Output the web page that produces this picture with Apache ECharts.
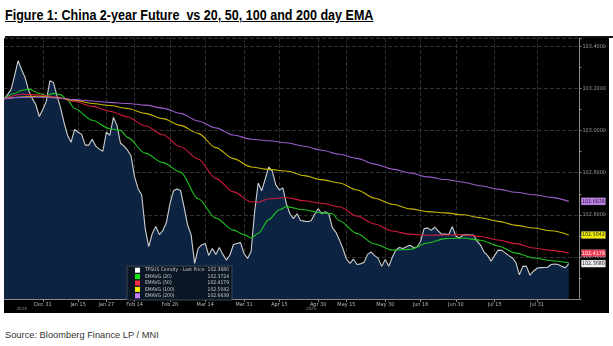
<!DOCTYPE html>
<html>
<head>
<meta charset="utf-8">
<script src="https://cdn.jsdelivr.net/npm/echarts@6/dist/echarts.min.js"></script>
<style>
  html, body { margin: 0; padding: 0; background: #fff; width: 613px; height: 346px; overflow: hidden; }
  #title { position: absolute; left: 5px; top: 6px; font: bold 15.5px 'Liberation Sans', Arial, sans-serif;
           text-decoration: underline; color: #000; white-space: pre; line-height: 17px;
           transform: scaleX(0.81); transform-origin: 0 0; }
  #rule { position: absolute; left: 5px; top: 36px; width: 608px; height: 1.5px; background: #111; }
  #chart { position: absolute; left: 4px; top: 38px; width: 605px; height: 273px; background: #000; }
  #foot { position: absolute; left: 4px; top: 311px; width: 605px; height: 2px; background: #000; }
  #source { position: absolute; left: 5px; top: 330px; font: 9.3px 'Liberation Sans', sans-serif; color: #333; }
</style>
</head>
<body>
<div id="title">Figure 1: China 2-year Future  vs 20, 50, 100 and 200 day EMA</div>
<div id="rule"></div>
<div id="chart"></div>
<div id="foot"></div>
<div id="source">Source: Bloomberg Finance LP / MNI</div>
<script>
// Trading calendar (weekdays, minus exchange holidays)
const startDay = '2024-12-16';
const endDay = '2025-08-18';
const closedDays = ['2025-01-01', '2025-01-28', '2025-01-29', '2025-01-30', '2025-01-31', '2025-02-03',
  '2025-02-04', '2025-04-04', '2025-05-01', '2025-05-02', '2025-05-05', '2025-06-02'];

// Axis labels
const tickDates = ['2024-12-31', '2025-01-15', '2025-01-27', '2025-02-14', '2025-02-28', '2025-03-14', '2025-03-31',
  '2025-04-15', '2025-04-30', '2025-05-15', '2025-05-30', '2025-06-16', '2025-06-30', '2025-07-15', '2025-07-31'];
const tickLabels = ['Dec 31', 'Jan 15', 'Jan 27', 'Feb 14', 'Feb 28', 'Mar 14', 'Mar 31',
  'Apr 15', 'Apr 30', 'May 15', 'May 30', 'Jun 16', 'Jun 30', 'Jul 15', 'Jul 31'];
const yearLabelDates = ['2024-12-23', '2025-04-28'];
const yearLabels = ['2024', '2025'];

// TFSUS Comdty last price, one value per trading day
const priceValues = [
  103.150, 103.171, 103.195, 103.261, 103.332, 103.289, 103.251, 103.190, 103.152, 103.124,
  103.067, 103.100, 103.140, 103.237, 103.228, 103.166, 103.110, 103.039, 102.978, 102.945,
  103.006, 102.992, 102.982, 102.931, 102.931, 102.959, 102.926, 102.912, 102.902, 102.992,
  102.978, 103.063, 103.025, 102.940, 102.926, 102.907, 102.879, 102.780, 102.723, 102.695,
  102.534, 102.449, 102.511, 102.544, 102.506, 102.525, 102.563, 102.652, 102.714, 102.723,
  102.716, 102.638, 102.553, 102.506, 102.369, 102.440, 102.457, 102.464, 102.407, 102.440,
  102.412, 102.445, 102.412, 102.385, 102.409, 102.459, 102.464, 102.468, 102.416, 102.393,
  102.426, 102.615, 102.751, 102.714, 102.770, 102.827, 102.808, 102.742, 102.718, 102.728,
  102.652, 102.605, 102.582, 102.605, 102.573, 102.570, 102.567, 102.572, 102.603, 102.629,
  102.605, 102.615, 102.605, 102.539, 102.518, 102.482, 102.440, 102.390, 102.369, 102.389,
  102.364, 102.367, 102.374, 102.412, 102.423, 102.406, 102.393, 102.355, 102.388, 102.355,
  102.398, 102.433, 102.445, 102.440, 102.448, 102.455, 102.445, 102.447, 102.473, 102.534,
  102.538, 102.526, 102.541, 102.524, 102.507, 102.509, 102.506, 102.544, 102.499, 102.490,
  102.504, 102.505, 102.504, 102.504, 102.475, 102.456, 102.423, 102.406, 102.380, 102.407,
  102.432, 102.431, 102.419, 102.406, 102.395, 102.374, 102.315, 102.356, 102.355, 102.313,
  102.332, 102.346, 102.349, 102.350, 102.351, 102.364, 102.366, 102.364, 102.355, 102.348,
  102.368
];

// Moving averages: [trading-day index, value]
const ema20 = [[0, 103.151], [3, 103.176], [5, 103.192], [7, 103.197], [10, 103.176], [12, 103.166], [14, 103.177],
  [16, 103.171], [18, 103.145], [20, 103.105], [25, 103.049], [30, 103.009], [33, 103.001], [35, 102.968],
  [40, 102.893], [45, 102.848], [50, 102.803], [55, 102.676], [60, 102.584], [65, 102.527], [68, 102.506],
  [70, 102.490], [72, 102.511], [75, 102.577], [78, 102.624], [80, 102.639], [85, 102.624], [90, 102.609],
  [93, 102.605], [95, 102.572], [100, 102.511], [105, 102.461], [110, 102.432], [115, 102.436], [120, 102.466],
  [125, 102.487], [130, 102.490], [135, 102.479], [140, 102.452], [145, 102.418], [150, 102.395], [155, 102.382],
  [160, 102.3724]];
const ema50 = [[0, 103.151], [5, 103.173], [10, 103.169], [15, 103.160], [20, 103.138], [25, 103.115], [30, 103.092],
  [35, 103.065], [40, 103.023], [45, 102.980], [50, 102.923], [55, 102.865], [60, 102.773], [65, 102.709],
  [70, 102.662], [72, 102.660], [75, 102.676], [80, 102.682], [85, 102.667], [90, 102.655], [95, 102.638],
  [100, 102.594], [105, 102.556], [110, 102.523], [115, 102.508], [120, 102.503], [125, 102.504], [130, 102.505],
  [135, 102.497], [140, 102.480], [145, 102.463], [150, 102.442], [155, 102.431], [160, 102.4179]];
const ema100 = [[0, 103.151], [5, 103.160], [10, 103.163], [15, 103.156], [20, 103.145], [25, 103.129], [30, 103.119],
  [35, 103.105], [40, 103.082], [45, 103.057], [50, 103.025], [55, 102.987], [60, 102.919], [65, 102.867],
  [70, 102.827], [75, 102.816], [80, 102.808], [85, 102.786], [90, 102.767], [95, 102.751], [100, 102.718],
  [105, 102.679], [110, 102.650], [115, 102.628], [120, 102.615], [125, 102.609], [130, 102.600], [135, 102.586],
  [140, 102.569], [145, 102.550], [150, 102.537], [155, 102.524], [160, 102.5042]];
const ema200 = [[0, 103.151], [5, 103.158], [10, 103.159], [15, 103.155], [20, 103.147], [25, 103.141], [30, 103.134],
  [35, 103.129], [40, 103.121], [45, 103.107], [50, 103.082], [55, 103.046], [60, 103.013], [65, 102.979],
  [70, 102.959], [75, 102.952], [80, 102.942], [85, 102.926], [90, 102.907], [95, 102.888], [100, 102.868],
  [105, 102.841], [110, 102.817], [115, 102.799], [120, 102.780], [125, 102.768], [130, 102.755], [135, 102.738],
  [140, 102.722], [145, 102.707], [150, 102.695], [155, 102.683], [160, 102.6639]];

function tradingDays() {
  const out = [];
  let t = Date.parse(startDay + 'T00:00:00Z');
  const end = Date.parse(endDay + 'T00:00:00Z');
  while (t <= end) {
    const d = new Date(t);
    const wd = d.getUTCDay();
    const s = d.toISOString().slice(0, 10);
    if (wd !== 0 && wd !== 6 && !closedDays.includes(s)) out.push(s);
    t += 86400000;
  }
  return out;
}

const days = tradingDays();
const lastDay = days[days.length - 1];
const isTick = (i, v) => tickDates.includes(v);
const isYear = (i, v) => yearLabelDates.includes(v);

const lastOf = arr => {
  const x = arr[arr.length - 1];
  return Array.isArray(x) ? x[1] : x;
};

const priceName = 'TFSUS Comdty - Last Price';
const lastValues = {
  [priceName]: lastOf(priceValues),
  'EMAVG (20)': lastOf(ema20),
  'EMAVG (50)': lastOf(ema50),
  'EMAVG (100)': lastOf(ema100),
  'EMAVG (200)': lastOf(ema200)
};

const smallFont = 'DejaVu Sans Condensed, sans-serif';

// Last-value tag sitting just right of the price axis
function tag(value, bg, fg) {
  return {
    silent: true,
    animation: false,
    symbol: 'rect',
    symbolSize: [24, 7],
    symbolOffset: [14, 0],
    itemStyle: { color: bg, borderColor: 'rgba(255,255,255,0.35)', borderWidth: 0.5 },
    emphasis: { disabled: true },
    label: {
      show: true, position: 'inside',
      formatter: () => value.toFixed(4),
      fontSize: 5.3, fontFamily: smallFont, color: fg
    },
    data: [{ coord: [lastDay, value] }]
  };
}

function emaSeries(name, data, color, tagBg, tagFg, z) {
  const s = {
    name, type: 'line', data, showSymbol: false, smooth: 0.3, smoothMonotone: 'x', clip: false,
    lineStyle: { color, width: 1.1 }, itemStyle: { color },
    emphasis: { disabled: true }, z
  };
  if (tagBg) s.markPoint = tag(lastOf(data), tagBg, tagFg);
  return s;
}

const chart = echarts.init(document.getElementById('chart'), null, { renderer: 'canvas' });
chart.setOption({
  animation: false,
  backgroundColor: '#000',
  grid: { left: 0, right: 24, top: 0, bottom: 11, containLabel: false },
  legend: {
    orient: 'vertical', left: 123, top: 228,
    icon: 'rect', itemWidth: 5, itemHeight: 5, itemGap: 0, itemTextGap: 3,
    backgroundColor: '#0b1625', borderColor: '#3b4656', borderWidth: 1,
    padding: [1, 3, 1, 8], selectedMode: false, z: 10,
    textStyle: { color: '#c8c8c8', fontSize: 5, lineHeight: 6.4, fontFamily: smallFont,
      rich: {
        n: { width: 64, fontSize: 5, lineHeight: 6.4, fontFamily: smallFont },
        v: { width: 20, align: 'right', fontSize: 5, lineHeight: 6.4, fontFamily: smallFont }
      } },
    formatter: name => '{n|' + name + '}{v|' + lastValues[name].toFixed(4) + '}',
    data: [
      { name: priceName, itemStyle: { color: '#ffffff' } },
      { name: 'EMAVG (20)', itemStyle: { color: '#10ee10' } },
      { name: 'EMAVG (50)', itemStyle: { color: '#ff2a48' } },
      { name: 'EMAVG (100)', itemStyle: { color: '#f4f000' } },
      { name: 'EMAVG (200)', itemStyle: { color: '#c77dff' } }
    ]
  },
  xAxis: [
    {
      type: 'category', data: days, boundaryGap: false,
      axisLine: { lineStyle: { color: '#8a8a8a', width: 1 } },
      axisTick: { interval: isTick, length: 3, lineStyle: { color: '#8a8a8a' } },
      axisLabel: {
        interval: isTick, margin: 3, fontSize: 5.5, color: '#b8b8b8', fontFamily: smallFont,
        formatter: v => tickLabels[tickDates.indexOf(v)]
      },
      splitLine: { show: true, interval: isTick, lineStyle: { color: '#2e2e2e', type: 'dashed', width: 1 } }
    },
    {
      type: 'category', data: days, boundaryGap: false, position: 'bottom', offset: 7,
      axisLine: { show: false }, axisTick: { show: false }, splitLine: { show: false },
      axisLabel: {
        interval: isYear, margin: 0, fontSize: 4.5, color: '#909090', fontFamily: smallFont,
        formatter: v => yearLabels[yearLabelDates.indexOf(v)]
      }
    }
  ],
  yAxis: {
    type: 'value', position: 'right', min: 102.2, max: 103.44, interval: 0.2,
    axisLine: { show: true, lineStyle: { color: '#8a8a8a' } },
    axisTick: { show: true, length: 2, lineStyle: { color: '#8a8a8a' } },
    minorTick: { show: true, splitNumber: 2, length: 2, lineStyle: { color: '#8a8a8a' } },
    axisLabel: {
      margin: 3, fontSize: 5.5, color: '#9a9a9a', showMinLabel: false, showMaxLabel: false,
      fontFamily: smallFont,
      formatter: v => v.toFixed(4)
    },
    splitLine: { show: true, lineStyle: { color: '#2e2e2e', type: 'dashed', width: 1 } }
  },
  series: [
    {
      name: priceName, type: 'line', data: priceValues, showSymbol: false, clip: false,
      lineStyle: { color: '#cfcfcf', width: 1.1 }, itemStyle: { color: '#ffffff' },
      areaStyle: { color: '#0c2442', opacity: 1, origin: 'start' },
      emphasis: { disabled: true }, z: 2,
      markPoint: tag(lastOf(priceValues), '#efefef', '#222')
    },
    emaSeries('EMAVG (20)', ema20, '#1fc41f', null, null, 3),
    emaSeries('EMAVG (50)', ema50, '#d11a3c', '#ee3a52', '#ffffff', 3),
    emaSeries('EMAVG (100)', ema100, '#c9b800', '#f2ec00', '#222', 3),
    emaSeries('EMAVG (200)', ema200, '#9a5cc9', '#c07ef0', '#222', 3)
  ]
});
</script>
</body>
</html>
